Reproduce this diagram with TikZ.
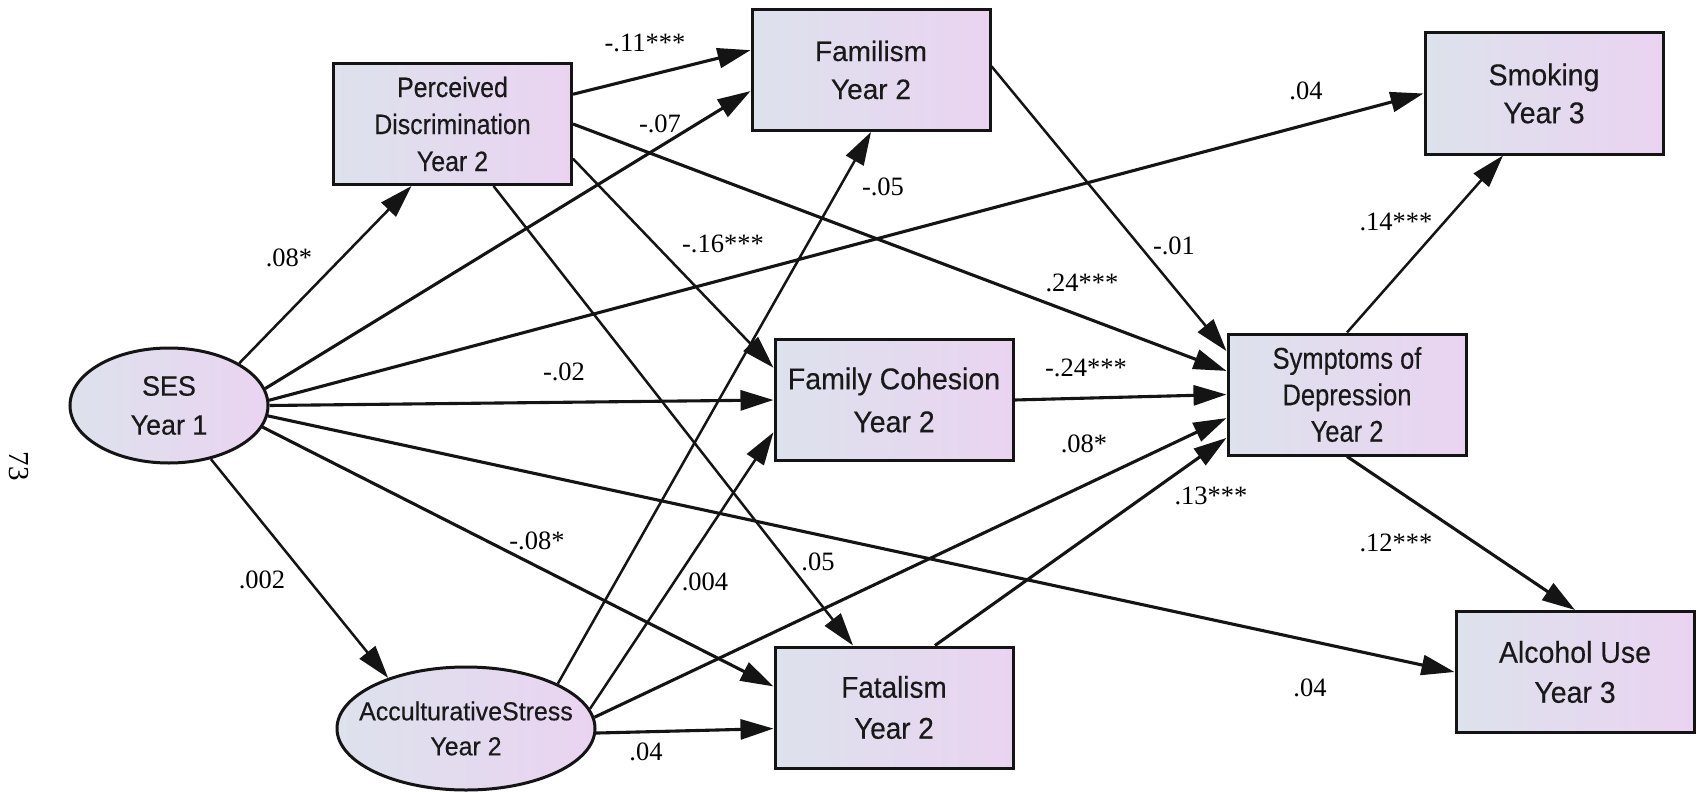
\documentclass[tikz,border=0pt]{standalone}
\usepackage{fontspec}
\setmainfont{Liberation Serif}
\newfontfamily\boxfont[FakeBold=0.35]{Liberation Sans}
\usetikzlibrary{shapes.geometric,arrows.meta,calc}

\definecolor{fillL}{RGB}{221,226,236}
\definecolor{fillR}{RGB}{234,211,241}
\definecolor{inkline}{RGB}{20,20,20}

\begin{document}
\begin{tikzpicture}[x=1pt,y=-1pt,
  var/.style={draw=inkline, line width=3pt, rectangle, minimum width=238pt,
    minimum height=121pt, inner sep=0pt, align=center,
    left color=fillL, right color=fillR, text=black!90},
  txt/.style n args={3}{font=\boxfont\addfontfeature{FakeStretch=#1}\fontsize{#2}{#3}\selectfont},
  latent/.style={draw=inkline, line width=3pt, ellipse, inner sep=0pt,
    left color=fillL, right color=fillR},
  latenttext/.style={align=center, inner sep=0pt, text=black!90},
  arr/.style={draw=inkline, line width=3.1pt, -{Triangle[length=33pt,width=20pt]}},
  thinarr/.style={arr, line width=2.5pt},
  coef/.style={font=\fontsize{26.5}{30}\selectfont, inner sep=0pt},
]
% canvas
\fill[white] (0,0) rectangle (1700,792);
\useasboundingbox (0,0) rectangle (1700,792);

% observed variables
\node[var,txt={0.89}{28}{37}]   (pd)  at (452.5,124)  {Perceived\\Discrimination\\Year 2};
\node[var,txt={1}{28}{38}]      (fam) at (871,70)     {Familism\\Year 2};
\node[var,txt={0.95}{30}{38}]   (smk) at (1544,93.5)  {Smoking\\Year 3};
\node[var,txt={0.95}{30}{43}]   (fc)  at (894,400)    {Family Cohesion\\Year 2};
\node[var,txt={0.93}{30}{41}]   (fat) at (894,707.5)  {Fatalism\\Year 2};
\node[var,txt={0.85}{30}{36.5}] (dep) at (1347,394.5) {Symptoms of\\Depression\\Year 2};
\node[var,txt={0.95}{30}{40}]   (alc) at (1575,672)   {Alcohol Use\\Year 3};

% latent variables
\node[latent, minimum width=198pt, minimum height=115pt] (ses) at (169,405.5) {};
\node[latenttext, txt={0.96}{28}{39}] (sestext) at (ses) {SES\\Year 1};
\node[latent, minimum width=258pt, minimum height=123pt] (acc) at (466,728.5) {};
\node[latenttext, txt={0.96}{26}{35}] (acctext) at (acc) {AcculturativeStress\\Year 2};

% paths
\draw[thinarr] (ses.31) -- ($(pd.south west)!0.33!(pd.south east)$);
\draw[arr] ($(pd.north east)!0.26!(pd.south east)$) -- ($(fam.north west)!0.34!(fam.south west)$);
\draw[arr] (ses.10) -- ($(fam.north west)!0.67!(fam.south west)$);
\draw[arr] (pd.east) -- ($(dep.north west)!0.31!(dep.south west)$);
\draw[thinarr] ($(pd.north east)!0.78!(pd.south east)$) -- ($(fc.north west)!0.24!(fc.south west)$);
\draw[thinarr] ($(pd.south west)!0.67!(pd.south east)$) -- ($(fat.north west)!0.33!(fat.north east)$);
\draw[arr] (ses.3) -- (smk.west);
\draw[arr] (ses.east) -- (fc.west);
\draw[arr] (ses.-6) -- (alc.west);
\draw[arr] (ses.-13) -- ($(fat.north west)!0.33!(fat.south west)$);
\draw[thinarr] (ses.-52) -- (acc.147);
\draw[thinarr] (acc.26) -- (fam.south);
\draw[thinarr] (acc.9) -- ($(fc.north west)!0.76!(fc.south west)$);
\draw[arr] (acc.5) -- ($(dep.north west)!0.69!(dep.south west)$);
\draw[arr] (acc.-2) -- ($(fat.north west)!0.67!(fat.south west)$);
\draw[thinarr] ($(fam.north east)!0.47!(fam.south east)$) -- ($(dep.north west)!0.15!(dep.south west)$);
\draw[arr] (fc.east) -- (dep.west);
\draw[arr] ($(fat.north west)!0.67!(fat.north east)$) -- ($(dep.north west)!0.85!(dep.south west)$);
\draw[thinarr] (dep.north) -- ($(smk.south west)!0.33!(smk.south east)$);
\draw[arr] (dep.south) -- (alc.north);

% path coefficients
\node[coef] (c01) at (645,43)   {-.11***};
\node[coef] (c02) at (660,124)  {-.07};
\node[coef] (c03) at (289,258)  {.08*};
\node[coef] (c04) at (723,244)  {-.16***};
\node[coef] (c05) at (564,372)  {-.02};
\node[coef] (c06) at (883,187)  {-.05};
\node[coef] (c07) at (1306,91)  {.04};
\node[coef] (c08) at (1174,246) {-.01};
\node[coef] (c09) at (1082,283) {.24***};
\node[coef] (c10) at (1396,222) {.14***};
\node[coef] (c11) at (1086,368) {-.24***};
\node[coef] (c12) at (262,580)  {.002};
\node[coef] (c13) at (537,541)  {-.08*};
\node[coef] (c14) at (705,582)  {.004};
\node[coef] (c15) at (818,562)  {.05};
\node[coef] (c16) at (646,752)  {.04};
\node[coef] (c17) at (1084,444) {.08*};
\node[coef] (c18) at (1211,496) {.13***};
\node[coef] (c19) at (1396,543) {.12***};
\node[coef] (c20) at (1310,688) {.04};

% page number
\node[font=\fontsize{29}{32}\selectfont, rotate=-90, inner sep=0pt] (pgnum) at (19,466) {73};
\end{tikzpicture}
\end{document}
